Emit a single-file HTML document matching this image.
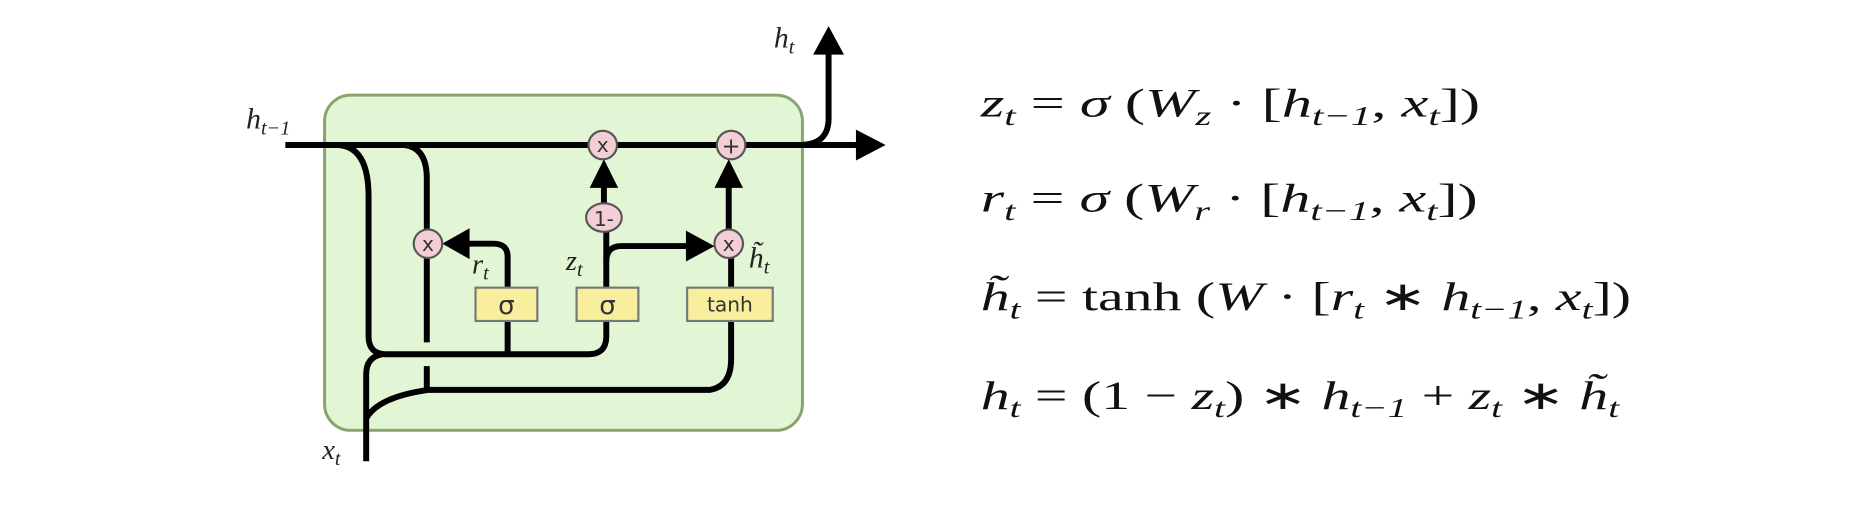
<!DOCTYPE html>
<html><head><meta charset="utf-8"><style>
html,body{margin:0;padding:0;background:#fff;width:1864px;height:514px;overflow:hidden}
svg{display:block}
.lbl{font-family:"Liberation Serif",serif;font-style:italic;fill:#222}
.eq{font-family:"Liberation Serif",serif;fill:#111}
.i{font-style:italic}
.op{font-family:"DejaVu Sans","Liberation Sans",sans-serif;fill:#333}
</style></head><body>
<svg width="1864" height="514" viewBox="0 0 1568 432.4" xmlns="http://www.w3.org/2000/svg">
<rect x="273" y="80" width="402" height="282" rx="22" fill="#e2f6d6" stroke="#88a46c" stroke-width="2.5"/>
<g fill="none" stroke="#000" stroke-width="5" stroke-linecap="butt">
<path d="M240,122 H724"/>
<path d="M672,122 Q697,122 697,100 V44"/>
<path d="M285,122 Q310,124 310,165 V283 Q310,298 325,298 H495 Q510,298 510,283 V270"/>
<path d="M308,388 V315 Q308,300 322,298"/>
<path d="M308,352 Q318,334 360,328 H597 Q615,325 615,302 V270"/>
<path d="M340,122 Q359,124 359,150 V193"/>
<path d="M359,217 V288"/>
<path d="M359,308 V327"/>
<path d="M427,298 V270"/>
<path d="M427,242 V216 Q427,205 415,205 H392"/>
<path d="M510,242 V195"/>
<path d="M508,171 V156"/>
<path d="M510,220 Q510,207 523,207 H578"/>
<path d="M615,242 V217"/>
<path d="M613,193 V156"/>
</g>
<g fill="#000">
<polygon points="745,122 720,109 720,135"/>
<polygon points="697,22 684,46 710,46"/>
<polygon points="372,205 395,192 395,218"/>
<polygon points="508,134 496,158 520,158"/>
<polygon points="613,134 601,158 625,158"/>
<polygon points="601,207 577,194 577,220"/>
</g>
<g fill="#f4ced6" stroke="#555" stroke-width="1.8">
<circle cx="507" cy="122" r="12"/>
<circle cx="615" cy="122" r="12"/>
<circle cx="360" cy="205" r="12"/>
<circle cx="613" cy="205" r="12"/>
<ellipse cx="508" cy="183" rx="15" ry="12"/>
</g>
<g fill="#f8ee9e" stroke="#777" stroke-width="1.8">
<rect x="400" y="242" width="52" height="28"/>
<rect x="485" y="242" width="52" height="28"/>
<rect x="578" y="242" width="72" height="28"/>
</g>
<g class="op" text-anchor="middle">
<text x="507" y="128" font-size="17">x</text>
<text x="615" y="129" font-size="19">+</text>
<text x="360" y="211" font-size="17">x</text>
<text x="613" y="211" font-size="17">x</text>
<text x="508" y="190" font-size="17">1-</text>
<text x="426" y="264" font-size="22">σ</text>
<text x="511" y="264" font-size="22">σ</text>
<text x="614" y="262" font-size="17">tanh</text>
</g>
<g class="lbl">
<text x="207" y="108" font-size="25">h<tspan font-size="17" dy="5">t−1</tspan></text>
<text x="397" y="230" font-size="24">r<tspan font-size="17" dy="5">t</tspan></text>
<text x="476" y="227" font-size="24">z<tspan font-size="17" dy="5">t</tspan></text>
<text x="630" y="225" font-size="25">h̃<tspan font-size="17" dy="5">t</tspan></text>
<text x="271" y="386" font-size="24">x<tspan font-size="17" dy="5">t</tspan></text>
<text x="651" y="40" font-size="25">h<tspan font-size="17" dy="5">t</tspan></text>
</g>
<g class="eq" font-size="34">
<text x="825" y="98" textLength="420" lengthAdjust="spacingAndGlyphs"><tspan class="i">z</tspan><tspan class="i" font-size="23" dy="7">t</tspan><tspan dy="-7"> = </tspan><tspan class="i">σ</tspan> (<tspan class="i">W</tspan><tspan class="i" font-size="23" dy="7">z</tspan><tspan dy="-7"> · [</tspan><tspan class="i">h</tspan><tspan class="i" font-size="23" dy="7">t−1</tspan><tspan dy="-7">, </tspan><tspan class="i">x</tspan><tspan class="i" font-size="23" dy="7">t</tspan><tspan dy="-7">])</tspan></text>
<text x="825" y="178" textLength="418" lengthAdjust="spacingAndGlyphs"><tspan class="i">r</tspan><tspan class="i" font-size="23" dy="7">t</tspan><tspan dy="-7"> = </tspan><tspan class="i">σ</tspan> (<tspan class="i">W</tspan><tspan class="i" font-size="23" dy="7">r</tspan><tspan dy="-7"> · [</tspan><tspan class="i">h</tspan><tspan class="i" font-size="23" dy="7">t−1</tspan><tspan dy="-7">, </tspan><tspan class="i">x</tspan><tspan class="i" font-size="23" dy="7">t</tspan><tspan dy="-7">])</tspan></text>
<text x="825" y="261" textLength="547" lengthAdjust="spacingAndGlyphs"><tspan class="i">h̃</tspan><tspan class="i" font-size="23" dy="7">t</tspan><tspan dy="-7"> = tanh (</tspan><tspan class="i">W</tspan> · [<tspan class="i">r</tspan><tspan class="i" font-size="23" dy="7">t</tspan><tspan dy="-7"> ∗ </tspan><tspan class="i">h</tspan><tspan class="i" font-size="23" dy="7">t−1</tspan><tspan dy="-7">, </tspan><tspan class="i">x</tspan><tspan class="i" font-size="23" dy="7">t</tspan><tspan dy="-7">])</tspan></text>
<text x="825" y="344" textLength="537" lengthAdjust="spacingAndGlyphs"><tspan class="i">h</tspan><tspan class="i" font-size="23" dy="7">t</tspan><tspan dy="-7"> = (1 − </tspan><tspan class="i">z</tspan><tspan class="i" font-size="23" dy="7">t</tspan><tspan dy="-7">) ∗ </tspan><tspan class="i">h</tspan><tspan class="i" font-size="23" dy="7">t−1</tspan><tspan dy="-7"> + </tspan><tspan class="i">z</tspan><tspan class="i" font-size="23" dy="7">t</tspan><tspan dy="-7"> ∗ </tspan><tspan class="i">h̃</tspan><tspan class="i" font-size="23" dy="7">t</tspan></text>
</g>
</svg>
</body></html>
